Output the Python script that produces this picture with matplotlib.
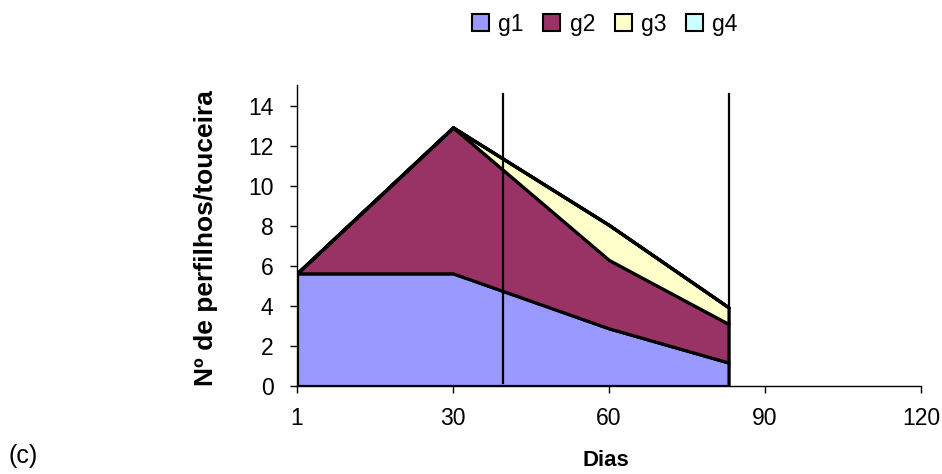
import numpy as np
import matplotlib.pyplot as plt
from matplotlib.patches import Patch

plt.rcParams['font.family'] = ['Liberation Sans', 'DejaVu Sans']

# day positions of the samples (first sample drawn at the origin, labelled 1)
days = [0, 30, 60, 83]
g1 = [5.63, 5.63, 2.88, 1.17]
g2 = [0.0, 7.30, 3.42, 1.93]
g3 = [0.0, 0.0, 1.75, 0.83]
g4 = [0.0, 0.0, 0.0, 0.0]
series = [g1, g2, g3, g4]
names = ["g1", "g2", "g3", "g4"]
colors = ["#9999FF", "#993366", "#FFFFCC", "#CCFFFF"]

tick_pos = [0, 30, 60, 90, 120]
tick_lab = ["1", "30", "60", "90", "120"]
marks = [39.6, 83]

fig = plt.figure(figsize=(9.42, 4.74), dpi=100)
ax = fig.add_axes([0.3153, 0.1857, 0.6624, 0.635])

base = np.zeros(len(days))
for vals, c in zip(series, colors):
    top = base + np.array(vals)
    ax.fill_between(days, base, top, facecolor=c, edgecolor="black", linewidth=2.3, zorder=2)
    base = top

for m in marks:
    ax.plot([m, m], [0.15, 14.6], color="black", linewidth=1.6, zorder=3)

ax.set_xlim(0, 120)
ax.set_ylim(0, 15.05)
ax.set_xticks(tick_pos)
ax.set_xticklabels(tick_lab)
ax.set_yticks(range(0, 15, 2))
ax.tick_params(direction="out", length=5, width=1, labelsize=16.5)
ax.tick_params(axis="y", pad=12)
ax.tick_params(axis="x", pad=10)
for s in ["top", "right"]:
    ax.spines[s].set_visible(False)
for s in ["left", "bottom"]:
    ax.spines[s].set_linewidth(1.0)

ax.set_ylabel("Nº de perfilhos/touceira", fontsize=19, fontweight="bold")
ax.yaxis.set_label_coords(-0.127, 0.49)
fig.text(0.643, 0.006, "Dias", fontsize=16, fontweight="bold", ha="center", va="bottom")
fig.text(0.0244, 0.038, "(c)", fontsize=18, ha="center", va="center")

handles = [Patch(facecolor=c, edgecolor="black", linewidth=1.5) for c in colors]
fig.legend(handles, names, loc="center", bbox_to_anchor=(0.642, 0.949), ncol=4,
           frameon=False, fontsize=16.5, handlelength=0.74, handleheight=0.74,
           handletextpad=0.4, columnspacing=0.86, borderpad=0, borderaxespad=0)

fig.savefig("out.png", dpi=100)
